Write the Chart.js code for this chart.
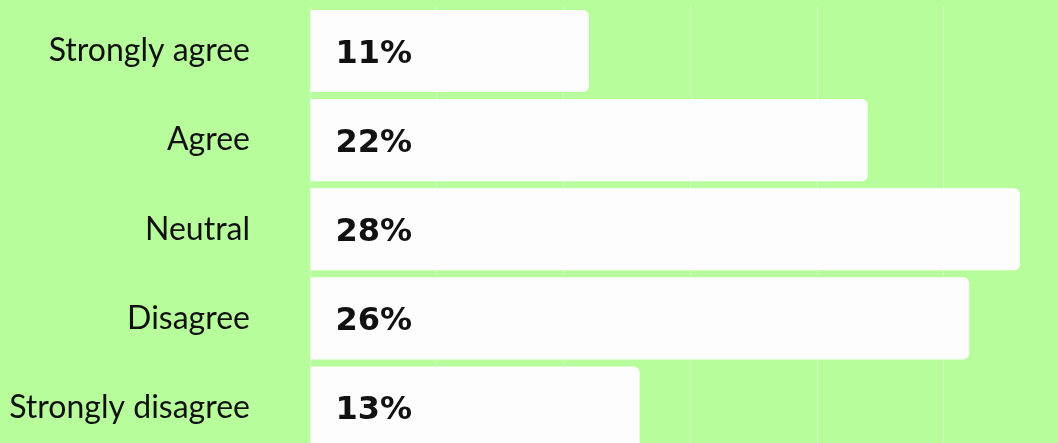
<!DOCTYPE html>
<html>
<head>
<meta charset="utf-8">
<script src="https://cdn.jsdelivr.net/npm/chart.js@4/dist/chart.umd.min.js"></script>
<style>
    html, body { margin: 0; padding: 0; background: #b7fd9b; overflow: hidden; }
    canvas { display: block; }
</style>
</head>
<body>
<canvas id="likertChart" width="1058" height="452"></canvas>
<script>
    // 数据
    const categories = ['Strongly agree', 'Agree', 'Neutral', 'Disagree', 'Strongly disagree'];
    const percents = [11, 22, 28, 26, 13];
    const valueLabels = ['11%', '22%', '28%', '26%', '13%'];

    const labelFont = 'Lato, "Open Sans", sans-serif';
    const valueFont = '"DejaVu Sans", Lato, sans-serif';

    // 柱内数值标签
    const valueLabelPlugin = {
        id: 'valueLabels',
        afterDatasetsDraw(chart) {
            const ctx = chart.ctx;
            const meta = chart.getDatasetMeta(0);
            ctx.save();
            ctx.font = 'bold 32px ' + valueFont;
            ctx.fillStyle = '#111111';
            ctx.textAlign = 'left';
            ctx.textBaseline = 'alphabetic';
            meta.data.forEach((bar, i) => {
                ctx.fillText(valueLabels[i], bar.base + 25, bar.y + 12);
            });
            ctx.restore();
        }
    };

    const ctx = document.getElementById('likertChart').getContext('2d');
    new Chart(ctx, {
        type: 'bar',
        data: {
            labels: categories,
            datasets: [{
                data: percents,
                backgroundColor: '#fdfdfd',
                borderRadius: 6,
                borderSkipped: 'start',
                categoryPercentage: 1,
                barPercentage: 0.921
            }]
        },
        options: {
            indexAxis: 'y',
            responsive: false,
            animation: false,
            layout: { padding: { top: 6.5, right: 0, bottom: 0, left: 0 } },
            scales: {
                x: {
                    min: 0,
                    max: 29.5,
                    ticks: { display: false, stepSize: 5 },
                    border: { display: false },
                    grid: { color: 'rgba(255,255,255,0.35)', lineWidth: 1, drawTicks: false }
                },
                y: {
                    ticks: {
                        color: '#111111',
                        padding: 60,
                        font: { family: labelFont, size: 32 }
                    },
                    border: { display: false },
                    grid: { display: false, drawTicks: false },
                    afterFit(scale) {
                        scale.width = 310;
                        scale.paddingTop = 0;
                        scale.paddingBottom = 0;
                    }
                }
            },
            plugins: {
                legend: { display: false },
                tooltip: { enabled: false }
            }
        },
        plugins: [valueLabelPlugin]
    });
</script>
</body>
</html>
